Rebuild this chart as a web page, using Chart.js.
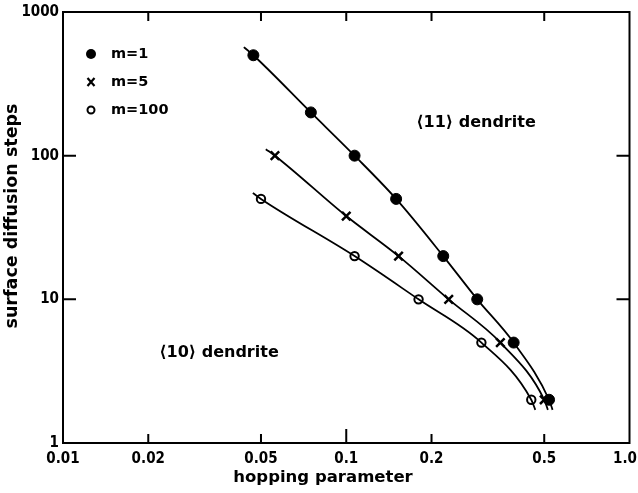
<!DOCTYPE html>
<html>
<head>
<meta charset="utf-8">
<script src="https://cdn.jsdelivr.net/npm/chart.js@4.4.0/dist/chart.umd.min.js"></script>
<style>
  html, body { margin: 0; padding: 0; background: #fff; }
</style>
</head>
<body>
<canvas id="chart" width="638" height="493"></canvas>
<script>
// tick values and labels
const xTicks = [0.01, 0.02, 0.05, 0.1, 0.2, 0.5, 1.0];
const xTickLabels = ['0.01', '0.02', '0.05', '0.1', '0.2', '0.5', '1.0'];
const yTicks = [1, 10, 100, 1000];
const yTickLabels = ['1', '10', '100', '1000'];

const m1X = [0.047, 0.075, 0.107, 0.15, 0.22, 0.29, 0.39, 0.52];
const m1Y = [500, 200, 100, 50, 20, 10, 5, 2];
const m5X = [0.056, 0.1, 0.153, 0.23, 0.35, 0.5];
const m5Y = [100, 38, 20, 10, 5, 2];
const m100X = [0.05, 0.107, 0.18, 0.3, 0.45];
const m100Y = [50, 20, 10, 5, 2];

// where the hand-drawn curves start and stop beyond the points
const m1Ends = [[0.0435, 570], [0.535, 1.7]];
const m5Ends = [[0.052, 111], [0.515, 1.7]];
const m100Ends = [[0.0468, 55], [0.465, 1.7]];

const seriesNames = ['m=1', 'm=5', 'm=100'];

function pts(xs, ys) {
  return xs.map((x, i) => ({ x: x, y: ys[i] }));
}
function curve(xs, ys, ends) {
  return [{ x: ends[0][0], y: ends[0][1] }, ...pts(xs, ys), { x: ends[1][0], y: ends[1][1] }];
}

const FONT = '"DejaVu Sans", sans-serif';
const TICKFONT = '"Liberation Sans Narrow", "DejaVu Sans Condensed", "DejaVu Sans", sans-serif';

// inward tick marks, frame, x tick labels, titles, legend and region labels
const paperPlugin = {
  id: 'paper',
  afterDraw(chart) {
    const ctx = chart.ctx;
    const a = chart.chartArea;
    const xs = chart.scales.x, ys = chart.scales.y;
    ctx.save();
    ctx.strokeStyle = '#000';
    ctx.fillStyle = '#000';
    ctx.lineWidth = 2;
    ctx.strokeRect(a.left, a.top, a.right - a.left, a.bottom - a.top);
    xTicks.slice(1, -1).forEach(v => {
      const px = xs.getPixelForValue(v);
      const len = v === 0.1 ? 14 : 9;
      ctx.beginPath();
      ctx.moveTo(px, a.bottom); ctx.lineTo(px, a.bottom - len);
      ctx.moveTo(px, a.top); ctx.lineTo(px, a.top + 9);
      ctx.stroke();
    });
    yTicks.slice(1, -1).forEach(v => {
      const py = ys.getPixelForValue(v);
      ctx.beginPath();
      ctx.moveTo(a.left, py); ctx.lineTo(a.left + 13, py);
      ctx.moveTo(a.right, py); ctx.lineTo(a.right - 13, py);
      ctx.stroke();
    });

    // x tick labels, kept inside the canvas at the right end
    ctx.font = 'bold 15px ' + TICKFONT;
    ctx.textAlign = 'center';
    ctx.textBaseline = 'middle';
    xTicks.forEach((v, i) => {
      const w = ctx.measureText(xTickLabels[i]).width;
      const px = Math.min(xs.getPixelForValue(v), chart.width - 1 - w / 2);
      ctx.fillText(xTickLabels[i], px, a.bottom + 16);
    });

    // axis titles
    ctx.font = 'bold 16.5px ' + FONT;
    ctx.fillText('hopping parameter', 323, 478);
    ctx.save();
    ctx.translate(12, 216);
    ctx.rotate(-Math.PI / 2);
    ctx.font = 'bold 17.5px ' + FONT;
    ctx.fillText('surface diffusion steps', 0, 0);
    ctx.restore();

    // legend
    const lx = a.left + 28, ly0 = a.top + 42, step = 28;
    ctx.font = 'bold 14.5px ' + FONT;
    ctx.textAlign = 'left';
    seriesNames.forEach((name, i) => {
      const y = ly0 + i * step;
      ctx.beginPath();
      if (i === 0) {
        ctx.arc(lx, y, 5, 0, Math.PI * 2); ctx.fill();
      } else if (i === 1) {
        ctx.lineWidth = 2.2;
        ctx.moveTo(lx - 3.5, y - 4); ctx.lineTo(lx + 3.5, y + 4);
        ctx.moveTo(lx + 3.5, y - 4); ctx.lineTo(lx - 3.5, y + 4);
        ctx.stroke();
      } else {
        ctx.lineWidth = 2;
        ctx.arc(lx, y, 3.5, 0, Math.PI * 2); ctx.stroke();
      }
      ctx.fillText(name, lx + 20, y);
    });

    ctx.font = 'bold 16px ' + FONT;
    ctx.textAlign = 'center';
    ctx.fillText('\u27e811\u27e9 dendrite', 476, 123);
    ctx.fillText('\u27e810\u27e9 dendrite', 219, 353);
    ctx.restore();
  }
};

const markerBase = { showLine: false, borderColor: '#000', backgroundColor: '#000' };
const lineBase = {
  showLine: true, pointRadius: 0, borderColor: '#000', borderWidth: 1.8,
  cubicInterpolationMode: 'monotone', fill: false
};

new Chart(document.getElementById('chart').getContext('2d'), {
  type: 'scatter',
  data: {
    datasets: [
      { ...lineBase, label: 'c1', data: curve(m1X, m1Y, m1Ends) },
      { ...lineBase, label: 'c5', data: curve(m5X, m5Y, m5Ends) },
      { ...lineBase, label: 'c100', data: curve(m100X, m100Y, m100Ends) },
      { ...markerBase, label: seriesNames[0], data: pts(m1X, m1Y), pointStyle: 'circle', pointRadius: 5.5, pointBorderWidth: 1 },
      { ...markerBase, label: seriesNames[1], data: pts(m5X, m5Y), pointStyle: 'crossRot', pointRadius: 6, pointBorderWidth: 2.5 },
      { ...markerBase, label: seriesNames[2], data: pts(m100X, m100Y), pointStyle: 'circle', pointRadius: 4.2, pointBorderWidth: 2, backgroundColor: '#fff' }
    ]
  },
  options: {
    responsive: false,
    animation: false,
    layout: { padding: { top: 12, right: 6, left: 0, bottom: 0 } },
    plugins: { legend: { display: false }, tooltip: { enabled: false } },
    scales: {
      x: {
        type: 'logarithmic', min: 0.01, max: 1,
        afterBuildTicks(s) { s.ticks = xTicks.map(v => ({ value: v })); },
        afterFit(s) { s.height = 50; s.paddingLeft = 0; s.paddingRight = 0; },
        grid: { display: false, drawTicks: false, tickLength: 0 },
        border: { display: false },
        ticks: { display: false }
      },
      y: {
        type: 'logarithmic', min: 1, max: 1000,
        afterBuildTicks(s) { s.ticks = yTicks.map(v => ({ value: v })); },
        afterFit(s) { s.width = 63; s.paddingTop = 0; s.paddingBottom = 0; },
        grid: { display: false, drawTicks: false, tickLength: 0 },
        border: { display: false },
        ticks: {
          color: '#000', font: { family: TICKFONT, size: 15, weight: 'bold' }, padding: 4,
          autoSkip: false,
          callback: (v, i) => yTickLabels[i]
        }
      }
    }
  },
  plugins: [paperPlugin]
});
</script>
</body>
</html>
